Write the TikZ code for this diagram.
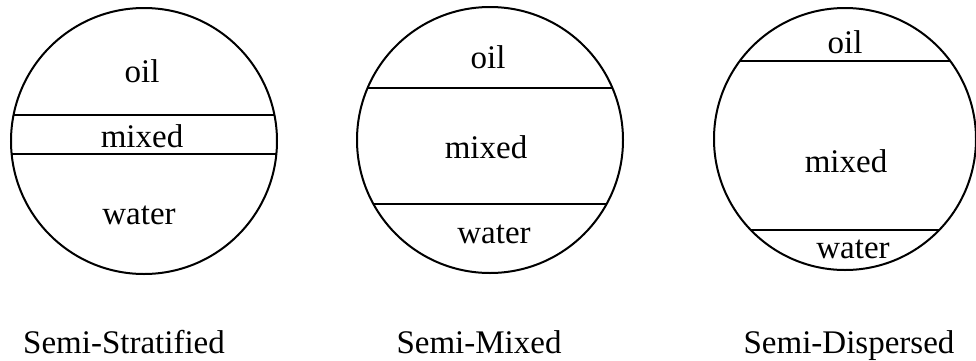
\documentclass[tikz,border=0pt]{standalone}
\usepackage{fontspec}
\setmainfont{Liberation Serif}
\usetikzlibrary{calc}

% horizontal boundary between two layers: a chord of the circle
% #1,#2 = centre, #3 = radius, #4 = height of the chord
\newcommand\layerchord[4]{%
  \draw[rim] ({#1-#3*sqrt(1-((#4-#2)/#3)^2)},#4) -- ({#1+#3*sqrt(1-((#4-#2)/#3)^2)},#4);}

\begin{document}
\begin{tikzpicture}[x=0.5pt,y=-0.5pt,
  rim/.style={line width=1pt,black},
  txt/.style={anchor=base,inner sep=0pt,font=\fontsize{16.5}{19}\selectfont},
  caption/.style={txt}]
\useasboundingbox (0,0) rectangle (976,360);

% ---- Semi-Stratified ----
\coordinate (c1) at (144,141);
\draw[rim] (c1) circle[radius=133];
\layerchord{144}{141}{133}{115}
\layerchord{144}{141}{133}{154}
\node[txt] (oil1)   at (142,82)  {oil};
\node[txt] (mix1)   at (142,147) {mixed};
\node[txt] (wat1)   at (139,224) {water};
\node[caption] (lab1) at (124,353) {Semi-Stratified};

% ---- Semi-Mixed ----
\coordinate (c2) at (490,140);
\draw[rim] (c2) circle[radius=133];
\layerchord{490}{140}{133}{88}
\layerchord{490}{140}{133}{204}
\node[txt] (oil2)   at (488,68)  {oil};
\node[txt] (mix2)   at (486,158) {mixed};
\node[txt] (wat2)   at (494,243) {water};
\node[caption] (lab2) at (479,353) {Semi-Mixed};

% ---- Semi-Dispersed ----
\coordinate (c3) at (845,139);
\draw[rim] (c3) circle[radius=131];
\layerchord{845}{139}{131}{61}
\layerchord{845}{139}{131}{230}
\node[txt] (oil3)   at (845,53)  {oil};
\node[txt] (mix3)   at (846,172) {mixed};
\node[txt] (wat3)   at (853,258) {water};
\node[caption] (lab3) at (849,353) {Semi-Dispersed};
\end{tikzpicture}
\end{document}
